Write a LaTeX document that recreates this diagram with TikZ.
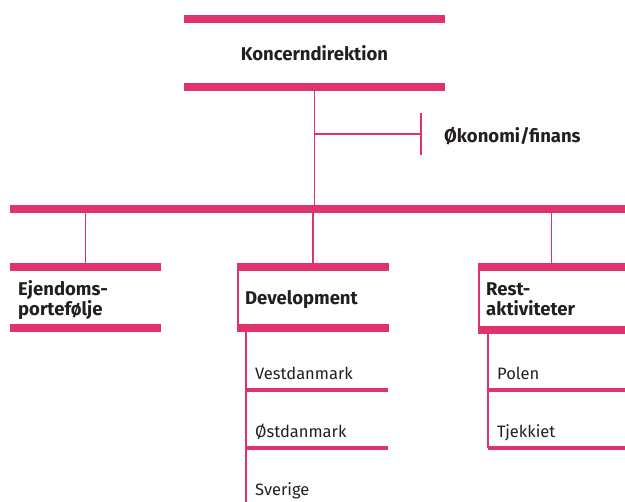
\documentclass[tikz,border=0pt]{standalone}
\usepackage{fontspec}
\setmainfont{Fira Sans}
\usetikzlibrary{positioning}
\definecolor{tkpink}{RGB}{224,50,110}
\definecolor{tktext}{RGB}{35,31,32}

\tikzstyle{bar} = [draw=tkpink,line width=8pt]
\tikzstyle{subbar} = [draw=tkpink,line width=4.5pt]
\tikzstyle{line} = [draw=tkpink,line width=1.5pt]
\tikzstyle{unit} = [align=left,font=\fontsize{18.5}{20}\selectfont\bfseries,text=tktext,rectangle,inner xsep=8pt,inner ysep=0pt,text depth=18.5pt,minimum height=61pt]
\tikzstyle{oneline} = [unit,text depth=0pt]
\tikzstyle{item} = [align=left,font=\fontsize{16.5}{18}\selectfont,text=tktext,rectangle,inner xsep=9pt,inner ysep=0pt,text height=11pt,text depth=4pt,minimum height=27pt,text width=124pt]

\begin{document}
\begin{tikzpicture}[x=1pt,y=-1pt,node distance=58pt]
	\useasboundingbox (0,0) rectangle (625,502);
	\node (kd) [oneline,align=center,minimum width=261pt,minimum height=68pt] at (314.5,53) {Koncerndirektion};
	\node (oek) [oneline,anchor=west,inner xsep=0pt,minimum height=0pt] at (444,135) {Økonomi/finans};
	\coordinate (busL) at (10,209);
	\coordinate (busR) at (625,209);
	\coordinate (tick) at (421,134);
	\node (ejd) [unit,text width=135pt,anchor=north west] at (10,267) {Ejendoms-\\portefølje};
	\node (dev) [oneline,text width=136pt,anchor=north west] at (237,267) {Development};
	\node (rest) [unit,text width=131pt,anchor=north west,minimum height=62.5pt] at (478,267) {Rest-\\aktiviteter};
	\node (vest) [item,anchor=south west] at (246,390) {Vestdanmark};
	\node (oest) [item,below of=vest] {Østdanmark};
	\node (sve) [item,below of=oest] {Sverige};
	\node (polen) [item,anchor=south west,text width=119pt] at (488,390) {Polen};
	\node (tjek) [item,below of=polen,text width=119pt] {Tjekkiet};
	% bars
	\draw [bar] (kd.north west) -- (kd.north east);
	\draw [bar] (kd.south west) -- (kd.south east);
	\draw [bar] (busL) -- (busR);
	\draw [bar] (ejd.north west) -- (ejd.north east);
	\draw [bar] (ejd.south west) -- (ejd.south east);
	\draw [bar] (dev.north west) -- (dev.north east);
	\draw [bar] (dev.south west) -- (dev.south east);
	\draw [bar] (rest.north west) -- (rest.north east);
	\draw [bar] (rest.south west) -- (rest.south east);
	\draw [line] ([xshift=1pt]dev.north west) -- ([xshift=1pt]dev.south west);
	\draw [line] ([xshift=1pt]rest.north west) -- ([xshift=1pt]rest.south west);
	\draw [subbar] (vest.south west) -- (vest.south east);
	\draw [subbar] (oest.south west) -- (oest.south east);
	\draw [subbar] (polen.south west) -- (polen.south east);
	\draw [subbar] (tjek.south west) -- (tjek.south east);
	% connectors
	\draw [line] (kd.south) -- (kd.south |- busL);
	\draw [line] (kd.south |- tick) -- (tick);
	\draw [line] ([yshift=-21pt]tick) -- ([yshift=21pt]tick);
	\draw [line] (ejd.north |- busL) -- (ejd.north);
	\draw [line] (dev.north |- busL) -- (dev.north);
	\draw [line] (rest.north |- busL) -- (rest.north);
	\draw [line] (vest.north west |- dev.south) -- (sve.south west);
	\draw [line] (polen.north west |- rest.south) -- (tjek.south west);
\end{tikzpicture}
\end{document}
